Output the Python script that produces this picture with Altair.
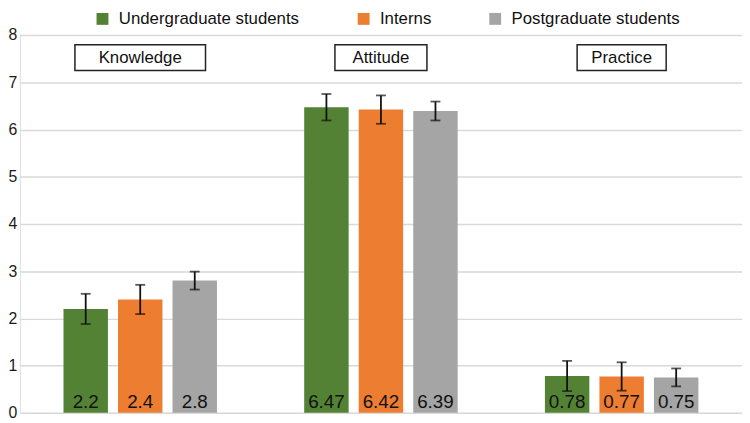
import altair as alt
import pandas as pd

# ---- data ----
categories = ["Knowledge", "Attitude", "Practice"]
groups = ["Undergraduate students", "Interns", "Postgraduate students"]
means = {
    "Undergraduate students": [2.2, 6.47, 0.78],
    "Interns": [2.4, 6.42, 0.77],
    "Postgraduate students": [2.8, 6.39, 0.75],
}
errors = {
    "Undergraduate students": [0.32, 0.28, 0.32],
    "Interns": [0.31, 0.30, 0.30],
    "Postgraduate students": [0.19, 0.20, 0.19],
}
labels = {
    "Undergraduate students": ["2.2", "6.47", "0.78"],
    "Interns": ["2.4", "6.42", "0.77"],
    "Postgraduate students": ["2.8", "6.39", "0.75"],
}
y_ticks = [0, 1, 2, 3, 4, 5, 6, 7, 8]

# ---- styles ----
colors = ["#548235", "#ED7D31", "#A5A5A5"]
header_box_width = {"Knowledge": 132, "Attitude": 93, "Practice": 90}
FONT = "Liberation Sans, Arial, sans-serif"

rows = []
for g in groups:
    for i, c in enumerate(categories):
        m = means[g][i]
        e = errors[g][i]
        rows.append({"cat": c, "grp": g, "mean": m, "lo": m - e, "hi": m + e,
                     "label": labels[g][i]})
df = pd.DataFrame(rows)
hdr = pd.DataFrame({"cat": categories, "w": [header_box_width[c] for c in categories]})

W, H = 730, 382

x_enc = alt.X("cat:N", sort=categories, axis=None,
              scale=alt.Scale(paddingInner=0, paddingOuter=0))
xo_enc = alt.XOffset("grp:N", sort=groups,
                     scale=alt.Scale(paddingInner=0.185, paddingOuter=0.80))
y_scale = alt.Scale(domain=[0, 8], nice=False)

base = alt.Chart(df)

bars = base.mark_bar().encode(
    x=x_enc,
    xOffset=xo_enc,
    y=alt.Y("mean:Q", scale=y_scale,
            axis=alt.Axis(values=y_ticks, title=None, domain=False, ticks=False,
                          labelFontSize=16, labelColor="#1a1a1a", labelFont=FONT,
                          labelPadding=3, gridColor="#D9D9D9", gridWidth=1.5)),
    color=alt.Color("grp:N", sort=groups,
                    scale=alt.Scale(domain=groups, range=colors),
                    legend=alt.Legend(title=None, orient="none", direction="horizontal",
                                      legendX=75, legendY=-25, symbolType="square",
                                      symbolSize=144, symbolStrokeWidth=0,
                                      labelFontSize=17, labelFont=FONT,
                                      labelColor="#111111", columnPadding=56,
                                      labelOffset=8, labelLimit=300)),
)

rules = base.mark_rule(color="#111111", strokeWidth=1.8).encode(
    x=x_enc, xOffset=xo_enc,
    y=alt.Y("lo:Q", scale=y_scale), y2="hi:Q",
)
cap_lo = base.mark_tick(color="#111111", thickness=1.8, size=10).encode(
    x=x_enc, xOffset=xo_enc, y=alt.Y("lo:Q", scale=y_scale),
)
cap_hi = base.mark_tick(color="#111111", thickness=1.8, size=10).encode(
    x=x_enc, xOffset=xo_enc, y=alt.Y("hi:Q", scale=y_scale),
)

texts = base.mark_text(fontSize=19, font=FONT, color="#111111",
                       baseline="alphabetic", dy=-5).encode(
    x=x_enc, xOffset=xo_enc,
    y=alt.datum(0, scale=y_scale),
    text="label:N",
)

hdr_box = alt.Chart(hdr).mark_bar(fill="white", stroke="#222222", strokeWidth=1.5).encode(
    x=x_enc,
    y=alt.value(10), y2=alt.value(36),
    size=alt.Size("w:Q", scale=None, legend=None),
)
hdr_text = alt.Chart(hdr).mark_text(fontSize=17, font=FONT, color="#111111",
                                    baseline="middle").encode(
    x=x_enc, y=alt.value(23), text="cat:N",
)

chart = alt.layer(bars, rules, cap_lo, cap_hi, texts, hdr_box, hdr_text).properties(
    width=W, height=H, padding=0
).configure_view(stroke=None).configure(background="white")

chart.save("out.html", embed_options={"renderer": "svg", "actions": False})
